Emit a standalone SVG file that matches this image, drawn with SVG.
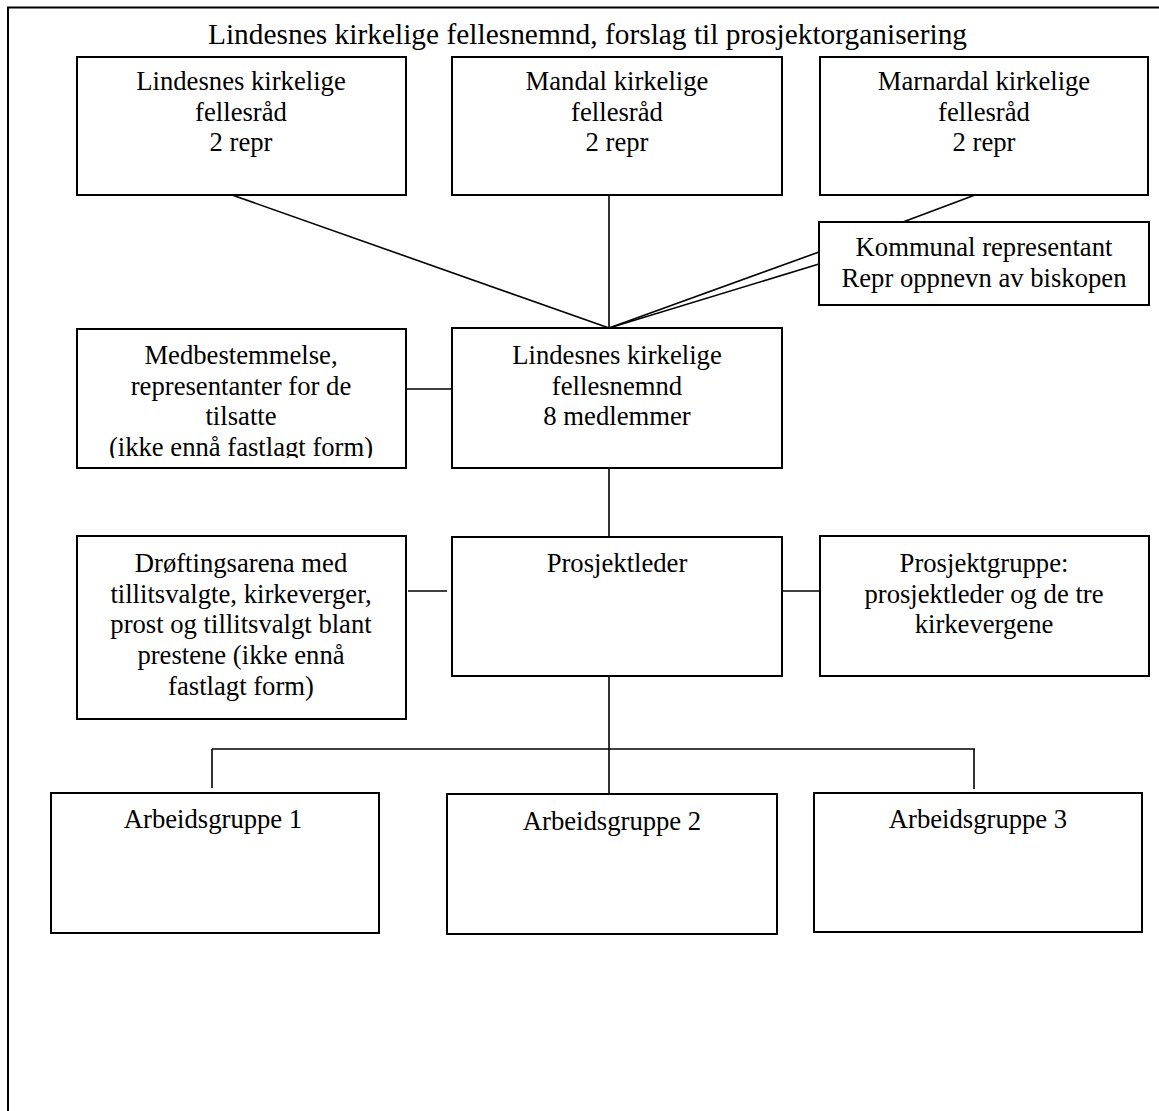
<svg xmlns="http://www.w3.org/2000/svg" width="1159" height="1111" viewBox="0 0 1159 1111">
<style>
.box{fill:#fff;stroke:#000;stroke-width:2}
.ln{stroke:#000;stroke-width:1.6;fill:none}
text{font-family:"Liberation Serif","Times New Roman",serif;font-size:26.67px;fill:#000;text-anchor:middle}
.title{font-size:29.33px}
</style>
<defs>
<clipPath id="clipMed"><rect x="78" y="330" width="327" height="128"/></clipPath>
</defs>
<rect width="1159" height="1111" fill="#fff"/>
<path d="M8 1120 V7.5 H1170" fill="none" stroke="#000" stroke-width="2"/>
<text class="title" x="587.5" y="44" textLength="759" lengthAdjust="spacing">Lindesnes kirkelige fellesnemnd, forslag til prosjektorganisering</text>
<g id="connectors">
<line class="ln" x1="232" y1="195" x2="609" y2="328"/>
<line class="ln" x1="609" y1="195" x2="609" y2="328"/>
<line class="ln" x1="975" y1="195" x2="903" y2="222"/>
<line class="ln" x1="609" y1="328" x2="819" y2="252"/>
<line class="ln" x1="609" y1="328" x2="819" y2="264"/>
<line class="ln" x1="406" y1="389" x2="452" y2="389"/>
<line class="ln" x1="609" y1="468" x2="609" y2="537"/>
<line class="ln" x1="408" y1="591" x2="447" y2="591"/>
<line class="ln" x1="782" y1="591" x2="820" y2="591"/>
<line class="ln" x1="609" y1="676" x2="609" y2="794"/>
<line class="ln" x1="212" y1="749" x2="975" y2="749"/>
<line class="ln" x1="212" y1="749" x2="212" y2="788"/>
<line class="ln" x1="974" y1="749" x2="974" y2="789"/>
</g>
<g id="n-lindesnes-fr">
<rect class="box" x="77" y="57" width="329" height="138"/>
<text x="241" y="90">Lindesnes kirkelige</text>
<text x="241" y="121">fellesråd</text>
<text x="241" y="151">2 repr</text>
</g>
<g id="n-mandal-fr">
<rect class="box" x="452" y="57" width="330" height="138"/>
<text x="617" y="90">Mandal kirkelige</text>
<text x="617" y="121">fellesråd</text>
<text x="617" y="151">2 repr</text>
</g>
<g id="n-marnardal-fr">
<rect class="box" x="820" y="57" width="328" height="138"/>
<text x="984" y="90">Marnardal kirkelige</text>
<text x="984" y="121">fellesråd</text>
<text x="984" y="151">2 repr</text>
</g>
<g id="n-kommunal">
<rect class="box" x="819" y="222" width="330" height="83"/>
<text x="984" y="256">Kommunal representant</text>
<text x="984" y="287">Repr oppnevn av biskopen</text>
</g>
<g id="n-medbestemmelse">
<rect class="box" x="77" y="329" width="329" height="139"/>
<g clip-path="url(#clipMed)">
<text x="241" y="364">Medbestemmelse,</text>
<text x="241" y="394.7">representanter for de</text>
<text x="241" y="425.3">tilsatte</text>
<text x="241" y="456">(ikke ennå fastlagt form)</text>
</g>
</g>
<g id="n-fellesnemnd">
<rect class="box" x="452" y="328" width="330" height="140"/>
<text x="617" y="364">Lindesnes kirkelige</text>
<text x="617" y="394.7">fellesnemnd</text>
<text x="617" y="425.3">8 medlemmer</text>
</g>
<g id="n-drofting">
<rect class="box" x="77" y="536" width="329" height="183"/>
<text x="241" y="572">Drøftingsarena med</text>
<text x="241" y="602.7">tillitsvalgte, kirkeverger,</text>
<text x="241" y="633.3">prost og tillitsvalgt blant</text>
<text x="241" y="664">prestene (ikke ennå</text>
<text x="241" y="694.7">fastlagt form)</text>
</g>
<g id="n-prosjektleder">
<rect class="box" x="452" y="537" width="330" height="139"/>
<text x="617" y="572">Prosjektleder</text>
</g>
<g id="n-prosjektgruppe">
<rect class="box" x="820" y="536" width="329" height="140"/>
<text x="984" y="572">Prosjektgruppe:</text>
<text x="984" y="602.7">prosjektleder og de tre</text>
<text x="984" y="633.3">kirkevergene</text>
</g>
<g id="n-ag1">
<rect class="box" x="51" y="793" width="328" height="140"/>
<text x="213" y="828">Arbeidsgruppe 1</text>
</g>
<g id="n-ag2">
<rect class="box" x="447" y="794" width="330" height="140"/>
<text x="612" y="830">Arbeidsgruppe 2</text>
</g>
<g id="n-ag3">
<rect class="box" x="814" y="793" width="328" height="139"/>
<text x="978" y="828">Arbeidsgruppe 3</text>
</g>
</svg>
